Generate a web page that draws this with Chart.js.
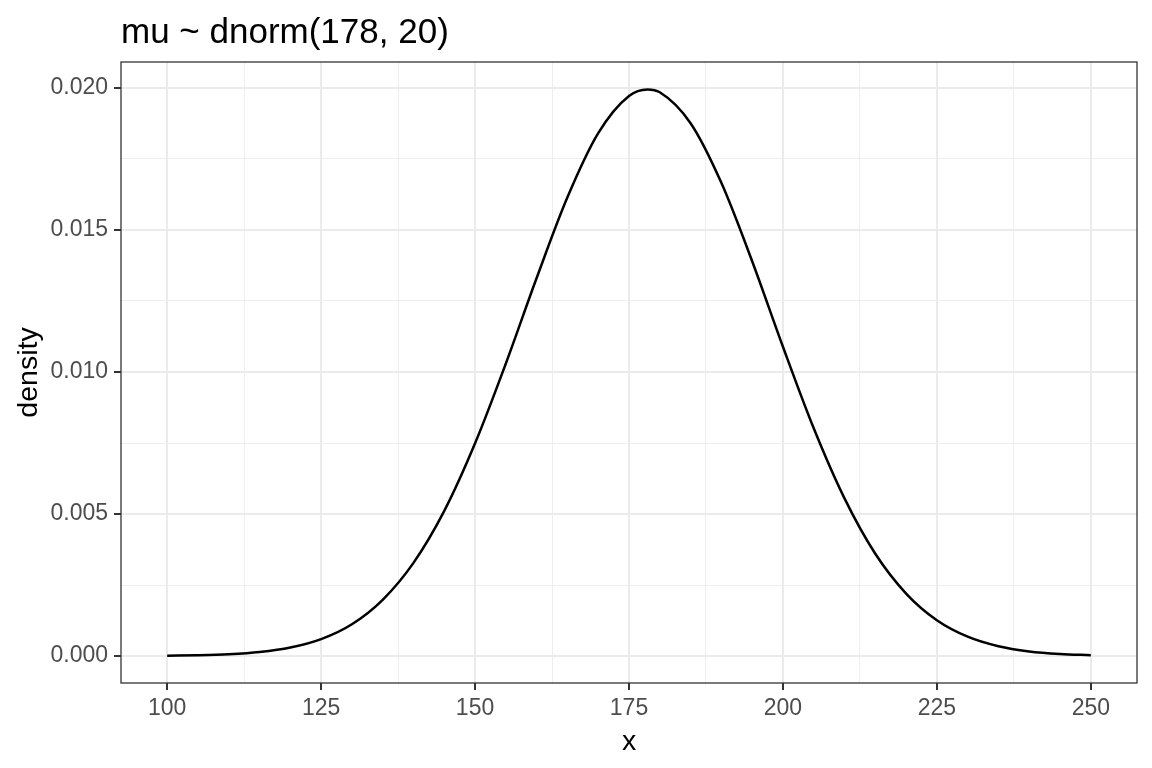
<!DOCTYPE html>
<html>
<head>
<meta charset="utf-8">
<script src="https://cdn.jsdelivr.net/npm/chart.js@4/dist/chart.umd.min.js"></script>
<style>
  html, body { margin: 0; padding: 0; background: #ffffff; }
  canvas { display: block; }
</style>
</head>
<body>
<canvas id="chart" width="1152" height="768"></canvas>
<script>
// values
const xValues = [100, 105, 110, 115, 120, 125, 130, 135, 140, 145, 150, 155, 160, 165, 170, 175, 178,
  180, 185, 190, 195, 200, 205, 210, 215, 220, 225, 230, 235, 240, 245, 250];
const densityValues = [0.00001, 0.000026, 0.000062, 0.00014, 0.000298, 0.000596, 0.00112, 0.00198,
  0.00328, 0.00511, 0.00749, 0.0103, 0.01331, 0.01615, 0.01841, 0.01972, 0.01995,
  0.01985, 0.01876, 0.01666, 0.0139, 0.01089, 0.00802, 0.00555, 0.0036, 0.0022, 0.00126,
  0.00068, 0.000344, 0.000163, 0.000073, 0.000031];

// tick positions (major + minor grid)
const xTicks = [100, 112.5, 125, 137.5, 150, 162.5, 175, 187.5, 200, 212.5, 225, 237.5, 250];
const yTicks = [0, 0.0025, 0.005, 0.0075, 0.01, 0.0125, 0.015, 0.0175, 0.02];

const titleText = 'mu ~ dnorm(178, 20)';
const xTitle = 'x';
const yTitle = 'density';

const fontFamily = '"Liberation Sans", Arial, Helvetica, sans-serif';

function isMajor(v, step) {
  return Math.abs(v / step - Math.round(v / step)) < 1e-6;
}

//Draw the panel border on top of everything
const panelBorder = {
  id: 'panelBorder',
  afterDraw(chart) {
    const a = chart.chartArea;
    const ctx = chart.ctx;
    ctx.save();
    ctx.strokeStyle = '#333333';
    ctx.lineWidth = 1.3;
    ctx.strokeRect(a.left, a.top, a.right - a.left, a.bottom - a.top);
    ctx.restore();
  }
};

const points = xValues.map((x, i) => ({ x: x, y: densityValues[i] }));

new Chart(document.getElementById('chart'), {
  type: 'line',
  data: {
    datasets: [{
      data: points,
      borderColor: '#000000',
      borderWidth: 2.5,
      pointRadius: 0,
      fill: false,
      cubicInterpolationMode: 'monotone'
    }]
  },
  options: {
    responsive: false,
    animation: false,
    layout: { padding: { left: 0, right: 15, top: 0, bottom: 0 } },
    plugins: {
      legend: { display: false },
      tooltip: { enabled: false },
      title: {
        display: true,
        text: titleText,
        align: 'start',
        fullSize: false,
        color: '#000000',
        font: { family: fontFamily, size: 35, weight: 'normal' },
        padding: { top: 12, bottom: 8 }
      }
    },
    scales: {
      x: {
        type: 'linear',
        min: 92.5,
        max: 257.5,
        afterBuildTicks: (scale) => { scale.ticks = xTicks.map(v => ({ value: v })); },
        afterFit: (scale) => { scale.height = 85; },
        border: { display: false },
        grid: {
          color: (ctx) => isMajor(ctx.tick.value, 25) ? '#EBEBEB' : '#EEEEEE',
          lineWidth: (ctx) => isMajor(ctx.tick.value, 25) ? 2 : 1,
          tickColor: (ctx) => isMajor(ctx.tick.value, 25) ? '#333333' : 'rgba(0,0,0,0)',
          tickWidth: 2,
          tickLength: 7
        },
        ticks: {
          autoSkip: false,
          maxRotation: 0,
          padding: 5,
          color: '#4D4D4D',
          font: { family: fontFamily, size: 23 },
          callback: (v) => isMajor(v, 25) ? String(v) : ''
        },
        title: {
          display: true,
          text: xTitle,
          color: '#000000',
          font: { family: fontFamily, size: 28.5 },
          padding: { top: 0, bottom: 9 }
        }
      },
      y: {
        type: 'linear',
        min: -0.00095,
        max: 0.020915,
        afterBuildTicks: (scale) => { scale.ticks = yTicks.map(v => ({ value: v })); },
        afterFit: (scale) => { scale.width = 121; },
        border: { display: false },
        grid: {
          color: (ctx) => isMajor(ctx.tick.value, 0.005) ? '#EBEBEB' : '#EEEEEE',
          lineWidth: (ctx) => isMajor(ctx.tick.value, 0.005) ? 2 : 1,
          tickColor: (ctx) => isMajor(ctx.tick.value, 0.005) ? '#333333' : 'rgba(0,0,0,0)',
          tickWidth: 2,
          tickLength: 7
        },
        ticks: {
          autoSkip: false,
          padding: 6,
          color: '#4D4D4D',
          font: { family: fontFamily, size: 23 },
          callback: (v) => isMajor(v, 0.005) ? v.toFixed(3) : ''
        },
        title: {
          display: true,
          text: yTitle,
          color: '#000000',
          font: { family: fontFamily, size: 28.5 },
          padding: { top: 12, bottom: 0 }
        }
      }
    }
  },
  plugins: [panelBorder]
});
</script>
</body>
</html>
